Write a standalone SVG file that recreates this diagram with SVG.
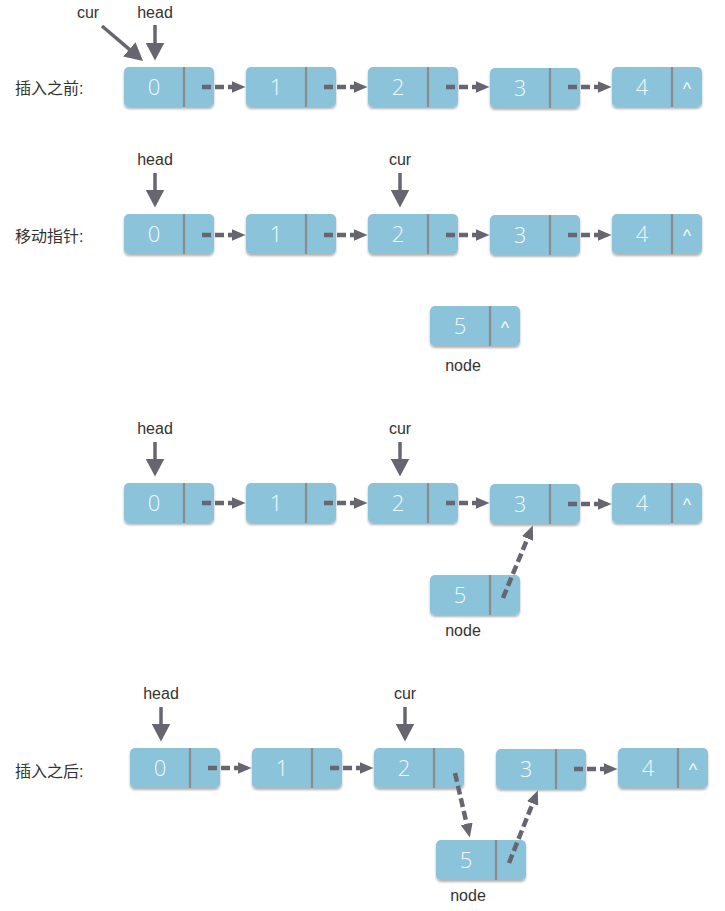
<svg xmlns="http://www.w3.org/2000/svg" width="725" height="911" viewBox="0 0 725 911">
<style>
.box{fill:#8AC3DA;filter:url(#sh)}
.div{stroke:#8C8C8C;stroke-width:2.2}
.val{font-family:"Open Sans","Liberation Sans",sans-serif;font-weight:300;font-size:22px;fill:#F4F8FA;text-anchor:middle}
.nil{font-family:"Liberation Sans",sans-serif;font-size:18px;fill:#F4F8FA;text-anchor:middle}
.lbl{font-family:"Liberation Sans",sans-serif;font-size:16px;fill:#333;text-anchor:middle}
.cn{font-family:"Liberation Sans","Noto Sans CJK SC",sans-serif;font-size:16px;fill:#333}
.dash{stroke:#67656F;stroke-width:4.5;stroke-dasharray:9 4;fill:none;marker-end:url(#ah)}
.ptr{stroke:#67656F;stroke-width:3.5;fill:none;marker-end:url(#ph)}
</style>
<defs>
<filter id="sh" x="-10%" y="-20%" width="120%" height="150%">
<feDropShadow dx="0" dy="2" stdDeviation="1.3" flood-color="#000" flood-opacity="0.3"/>
</filter>
<marker id="ah" markerUnits="userSpaceOnUse" markerWidth="15" markerHeight="12" refX="0.5" refY="6" orient="auto">
<path d="M0,0 L14,6 L0,12 z" fill="#67656F"/>
</marker>
<marker id="ph" markerUnits="userSpaceOnUse" markerWidth="18" markerHeight="19" refX="0.5" refY="9.5" orient="auto">
<path d="M0,0 L18,9.5 L0,19 z" fill="#67656F"/>
</marker>
</defs>
<rect width="725" height="911" fill="#fff"/>

<!-- Row 1 -->
<g id="r1-labels">
<text class="cn" x="15" y="94">插入之前:</text>
<text class="lbl" x="88" y="18">cur</text>
<text class="lbl" x="155" y="18">head</text>
</g>
<g id="r1-n0"><rect class="box" x="124" y="67" width="90" height="40" rx="5"/><line class="div" x1="184" y1="67" x2="184" y2="107"/><text class="val" x="154" y="95">0</text></g>
<g id="r1-n1"><rect class="box" x="246" y="67" width="90" height="40" rx="5"/><line class="div" x1="306" y1="67" x2="306" y2="107"/><text class="val" x="276" y="95">1</text></g>
<g id="r1-n2"><rect class="box" x="368" y="67" width="90" height="40" rx="5"/><line class="div" x1="428" y1="67" x2="428" y2="107"/><text class="val" x="398" y="95">2</text></g>
<g id="r1-n3"><rect class="box" x="490" y="68" width="90" height="40" rx="5"/><line class="div" x1="550" y1="68" x2="550" y2="108"/><text class="val" x="520" y="96">3</text></g>
<g id="r1-n4"><rect class="box" x="612" y="67" width="90" height="40" rx="5"/><line class="div" x1="672" y1="67" x2="672" y2="107"/><text class="val" x="642" y="95">4</text><text class="nil" x="687" y="95">^</text></g>

<!-- Row 2 -->
<g id="r2-labels">
<text class="cn" x="15" y="242">移动指针:</text>
<text class="lbl" x="155" y="165">head</text>
<text class="lbl" x="400" y="165">cur</text>
</g>
<g id="r2-n0"><rect class="box" x="124" y="214" width="90" height="40" rx="5"/><line class="div" x1="184" y1="214" x2="184" y2="254"/><text class="val" x="154" y="242">0</text></g>
<g id="r2-n1"><rect class="box" x="246" y="214" width="90" height="40" rx="5"/><line class="div" x1="306" y1="214" x2="306" y2="254"/><text class="val" x="276" y="242">1</text></g>
<g id="r2-n2"><rect class="box" x="368" y="214" width="90" height="40" rx="5"/><line class="div" x1="428" y1="214" x2="428" y2="254"/><text class="val" x="398" y="242">2</text></g>
<g id="r2-n3"><rect class="box" x="490" y="215" width="90" height="40" rx="5"/><line class="div" x1="550" y1="215" x2="550" y2="255"/><text class="val" x="520" y="243">3</text></g>
<g id="r2-n4"><rect class="box" x="612" y="214" width="90" height="40" rx="5"/><line class="div" x1="672" y1="214" x2="672" y2="254"/><text class="val" x="642" y="242">4</text><text class="nil" x="687" y="242">^</text></g>
<g id="r2-n5"><rect class="box" x="430" y="306" width="90" height="40" rx="5"/><line class="div" x1="490" y1="306" x2="490" y2="346"/><text class="val" x="460" y="334">5</text><text class="nil" x="505" y="334">^</text></g>
<text class="lbl" x="463" y="371">node</text>

<!-- Row 3 -->
<g id="r3-labels">
<text class="lbl" x="155" y="434">head</text>
<text class="lbl" x="400" y="434">cur</text>
<text class="lbl" x="463" y="636">node</text>
</g>
<g id="r3-n0"><rect class="box" x="124" y="483" width="90" height="40" rx="5"/><line class="div" x1="184" y1="483" x2="184" y2="523"/><text class="val" x="154" y="511">0</text></g>
<g id="r3-n1"><rect class="box" x="246" y="483" width="90" height="40" rx="5"/><line class="div" x1="306" y1="483" x2="306" y2="523"/><text class="val" x="276" y="511">1</text></g>
<g id="r3-n2"><rect class="box" x="368" y="483" width="90" height="40" rx="5"/><line class="div" x1="428" y1="483" x2="428" y2="523"/><text class="val" x="398" y="511">2</text></g>
<g id="r3-n3"><rect class="box" x="490" y="484" width="90" height="40" rx="5"/><line class="div" x1="550" y1="484" x2="550" y2="524"/><text class="val" x="520" y="512">3</text></g>
<g id="r3-n4"><rect class="box" x="612" y="483" width="90" height="40" rx="5"/><line class="div" x1="672" y1="483" x2="672" y2="523"/><text class="val" x="642" y="511">4</text><text class="nil" x="687" y="511">^</text></g>
<g id="r3-n5"><rect class="box" x="430" y="575" width="90" height="40" rx="5"/><line class="div" x1="490" y1="575" x2="490" y2="615"/><text class="val" x="460" y="603">5</text></g>

<!-- Row 4 -->
<g id="r4-labels">
<text class="cn" x="15" y="777">插入之后:</text>
<text class="lbl" x="161" y="699">head</text>
<text class="lbl" x="405" y="699">cur</text>
<text class="lbl" x="468" y="901">node</text>
</g>
<g id="r4-n0"><rect class="box" x="130" y="748" width="90" height="40" rx="5"/><line class="div" x1="190" y1="748" x2="190" y2="788"/><text class="val" x="160" y="776">0</text></g>
<g id="r4-n1"><rect class="box" x="252" y="748" width="90" height="40" rx="5"/><line class="div" x1="312" y1="748" x2="312" y2="788"/><text class="val" x="282" y="776">1</text></g>
<g id="r4-n2"><rect class="box" x="374" y="748" width="90" height="40" rx="5"/><line class="div" x1="434" y1="748" x2="434" y2="788"/><text class="val" x="404" y="776">2</text></g>
<g id="r4-n3"><rect class="box" x="496" y="749" width="90" height="40" rx="5"/><line class="div" x1="556" y1="749" x2="556" y2="789"/><text class="val" x="526" y="777">3</text></g>
<g id="r4-n4"><rect class="box" x="618" y="748" width="90" height="40" rx="5"/><line class="div" x1="678" y1="748" x2="678" y2="788"/><text class="val" x="648" y="776">4</text><text class="nil" x="693" y="776">^</text></g>
<g id="r4-n5"><rect class="box" x="436" y="840" width="90" height="40" rx="5"/><line class="div" x1="496" y1="840" x2="496" y2="880"/><text class="val" x="466" y="868">5</text></g>

<g id="connectors">
<!-- row 1 -->
<line class="ptr" x1="102" y1="26" x2="129.7" y2="49.7"/>
<line class="ptr" x1="155" y1="25" x2="155" y2="43"/>
<line class="dash" x1="202" y1="87" x2="232" y2="87"/>
<line class="dash" x1="324" y1="87" x2="354" y2="87"/>
<line class="dash" x1="446" y1="87" x2="476" y2="87"/>
<line class="dash" x1="568" y1="87" x2="598" y2="87"/>
<!-- row 2 -->
<line class="ptr" x1="155" y1="173" x2="155" y2="190"/>
<line class="ptr" x1="400" y1="173" x2="400" y2="190"/>
<line class="dash" x1="202" y1="235" x2="232" y2="235"/>
<line class="dash" x1="324" y1="235" x2="354" y2="235"/>
<line class="dash" x1="446" y1="235" x2="476" y2="235"/>
<line class="dash" x1="568" y1="235" x2="598" y2="235"/>
<!-- row 3 -->
<line class="ptr" x1="155" y1="442" x2="155" y2="459"/>
<line class="ptr" x1="400" y1="442" x2="400" y2="459"/>
<line class="dash" x1="202" y1="503" x2="232" y2="503"/>
<line class="dash" x1="324" y1="503" x2="354" y2="503"/>
<line class="dash" x1="446" y1="503" x2="476" y2="503"/>
<line class="dash" x1="568" y1="504" x2="598" y2="504"/>
<line class="dash" x1="503" y1="598" x2="527.7" y2="538"/>
<!-- row 4 -->
<line class="ptr" x1="161" y1="707" x2="161" y2="724"/>
<line class="ptr" x1="405" y1="707" x2="405" y2="724"/>
<line class="dash" x1="208" y1="768" x2="238" y2="768"/>
<line class="dash" x1="330" y1="768" x2="360" y2="768"/>
<line class="dash" x1="574" y1="769" x2="604" y2="769"/>
<line class="dash" x1="455" y1="773" x2="466.8" y2="824.4"/>
<line class="dash" x1="509" y1="863" x2="532.8" y2="803"/>
</g>
</svg>
